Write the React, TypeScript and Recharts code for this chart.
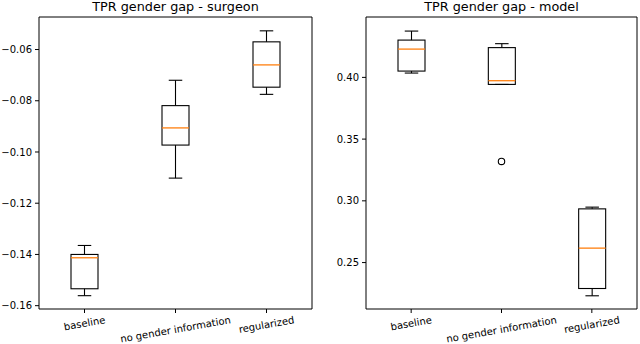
import React from 'react';
import { ComposedChart, Bar, Scatter, XAxis, YAxis } from 'recharts';

const categories = ['baseline', 'no gender information', 'regularized'];

// TPR gender gap - surgeon
const surgeonLow = [-0.1561, -0.1102, -0.0775];
const surgeonQ1 = [-0.1534, -0.0973, -0.0747];
const surgeonMed = [-0.1413, -0.0906, -0.066];
const surgeonQ3 = [-0.14, -0.0819, -0.057];
const surgeonHigh = [-0.1365, -0.072, -0.0527];
const surgeonOutliers: (number | null)[] = [null, null, null];
const surgeonTicks = [-0.16, -0.14, -0.12, -0.1, -0.08, -0.06];
const surgeonDomain = [-0.1613, -0.0473];

// TPR gender gap - model
const modelLow = [0.4035, 0.3943, 0.2231];
const modelQ1 = [0.4051, 0.3943, 0.229];
const modelMed = [0.4229, 0.3973, 0.2617];
const modelQ3 = [0.4302, 0.4241, 0.2935];
const modelHigh = [0.4375, 0.4273, 0.2949];
const modelOutliers: (number | null)[] = [null, 0.3319, null];
const modelTicks = [0.25, 0.3, 0.35, 0.4];
const modelDomain = [0.2124, 0.4489];

const FONT = 'DejaVu Sans';
const MEDIAN = '#ff7f0e';

function buildRows(low: number[], q1: number[], med: number[], q3: number[], high: number[], out: (number | null)[]) {
  return categories.map((name, i) => ({
    name,
    range: [low[i], high[i]],
    low: low[i],
    q1: q1[i],
    med: med[i],
    q3: q3[i],
    high: high[i],
    outlier: out[i],
    none: null,
  }));
}

const BoxShape = (props: any) => {
  const { x, y, width, height, payload } = props;
  if (!payload || x == null || y == null) return <g />;
  const top = Math.min(y, y + height);
  const bottom = Math.max(y, y + height);
  const { low, high, q1, med, q3 } = payload;
  const toPx = (v: number) => bottom - ((v - low) / (high - low)) * (bottom - top);
  const cx = x + width / 2;
  const capHalf = width / 4;
  const yHigh = toPx(high);
  const yQ3 = toPx(q3);
  const yMed = toPx(med);
  const yQ1 = toPx(q1);
  const yLow = toPx(low);
  const s = '#000';
  const sw = 1.1;
  return (
    <g>
      <line x1={cx} x2={cx} y1={yHigh} y2={yQ3} stroke={s} strokeWidth={sw} />
      <line x1={cx} x2={cx} y1={yQ1} y2={yLow} stroke={s} strokeWidth={sw} />
      <line x1={cx - capHalf} x2={cx + capHalf} y1={yHigh} y2={yHigh} stroke={s} strokeWidth={sw} />
      <line x1={cx - capHalf} x2={cx + capHalf} y1={yLow} y2={yLow} stroke={s} strokeWidth={sw} />
      <rect x={x} y={yQ3} width={width} height={yQ1 - yQ3} fill="none" stroke={s} strokeWidth={sw} />
      <line x1={x} x2={x + width} y1={yMed} y2={yMed} stroke={MEDIAN} strokeWidth={1.3} />
    </g>
  );
};

const OutlierShape = (props: any) => {
  const { cx, cy, payload } = props;
  if (!payload || payload.outlier == null || cx == null || cy == null || isNaN(cy)) return <g />;
  return <circle cx={cx} cy={cy} r={3.2} fill="none" stroke="#000" strokeWidth={1.1} />;
};

const EmptyShape = () => <g />;

let measureCtx: CanvasRenderingContext2D | null = null;
function textWidth(t: string) {
  if (!measureCtx && typeof document !== 'undefined') {
    const c = document.createElement('canvas');
    measureCtx = c.getContext('2d');
  }
  if (!measureCtx) return t.length * 5.8;
  measureCtx.font = `10px "${FONT}"`;
  return measureCtx.measureText(t).width;
}

const RotTick = (props: any) => {
  const { x, y, payload } = props;
  const label = String(payload.value);
  const w = textWidth(label);
  const a = (10 * Math.PI) / 180;
  const h = 11.6;
  const cy = y + (w * Math.sin(a) + h * Math.cos(a)) / 2;
  return (
    <text
      x={x}
      y={cy}
      textAnchor="middle"
      dominantBaseline="central"
      fontFamily={FONT}
      fontSize={10}
      fill="#000"
      transform={`rotate(-10, ${x}, ${cy})`}
    >
      {label}
    </text>
  );
};

const fmt = (v: number) => (v < 0 ? '\u2212' + Math.abs(v).toFixed(2) : v.toFixed(2));

function Panel(props: {
  rows: any[];
  domain: number[];
  ticks: number[];
  yWidth: number;
  marginRight: number;
}) {
  const { rows, domain, ticks, yWidth, marginRight } = props;
  return (
    <ComposedChart
      width={320}
      height={344}
      data={rows}
      margin={{ top: 16, right: marginRight, bottom: 0, left: 0 }}
    >
      <XAxis
        dataKey="name"
        type="category"
        interval={0}
        height={35}
        tickSize={4}
        tickMargin={1}
        axisLine={{ stroke: '#000' }}
        tickLine={{ stroke: '#000' }}
        tick={<RotTick />}
      />
      <XAxis xAxisId="top" dataKey="name" orientation="top" height={1} tick={false} tickLine={false} axisLine={{ stroke: '#000' }} />
      <YAxis
        type="number"
        domain={domain}
        ticks={ticks}
        allowDataOverflow
        width={yWidth}
        tickSize={4}
        tickMargin={3}
        tickFormatter={fmt}
        axisLine={{ stroke: '#000' }}
        tickLine={{ stroke: '#000' }}
        tick={{ fontSize: 10, fill: '#000', fontFamily: FONT }}
      />
      <YAxis yAxisId="right" orientation="right" type="number" domain={domain} allowDataOverflow width={1} tick={false} tickLine={false} axisLine={{ stroke: '#000' }} />
      <Bar dataKey="range" barSize={27} shape={<BoxShape />} isAnimationActive={false} />
      <Scatter dataKey="outlier" shape={<OutlierShape />} isAnimationActive={false} />
      <Scatter xAxisId="top" yAxisId="right" dataKey="none" shape={<EmptyShape />} isAnimationActive={false} />
    </ComposedChart>
  );
}

export default function App() {
  const surgeonRows = buildRows(surgeonLow, surgeonQ1, surgeonMed, surgeonQ3, surgeonHigh, surgeonOutliers);
  const modelRows = buildRows(modelLow, modelQ1, modelMed, modelQ3, modelHigh, modelOutliers);
  const titleStyle: React.CSSProperties = {
    position: 'absolute',
    top: 0,
    fontFamily: FONT,
    fontSize: 12.8,
    lineHeight: '14px',
    color: '#000',
    textAlign: 'center',
    whiteSpace: 'nowrap',
  };
  return (
    <div style={{ position: 'absolute', left: 0, top: 0, width: 640, height: 344, background: '#fff', overflow: 'hidden' }}>
      <div style={{ position: 'absolute', left: 0, top: 0 }}>
        <Panel rows={surgeonRows} domain={surgeonDomain} ticks={surgeonTicks} yWidth={39} marginRight={7} />
      </div>
      <div style={{ position: 'absolute', left: 320, top: 0 }}>
        <Panel rows={modelRows} domain={modelDomain} ticks={modelTicks} yWidth={46} marginRight={2} />
      </div>
      <div style={{ ...titleStyle, left: 39, width: 273 }}>TPR gender gap - surgeon</div>
      <div style={{ ...titleStyle, left: 366, width: 271 }}>TPR gender gap - model</div>
    </div>
  );
}
